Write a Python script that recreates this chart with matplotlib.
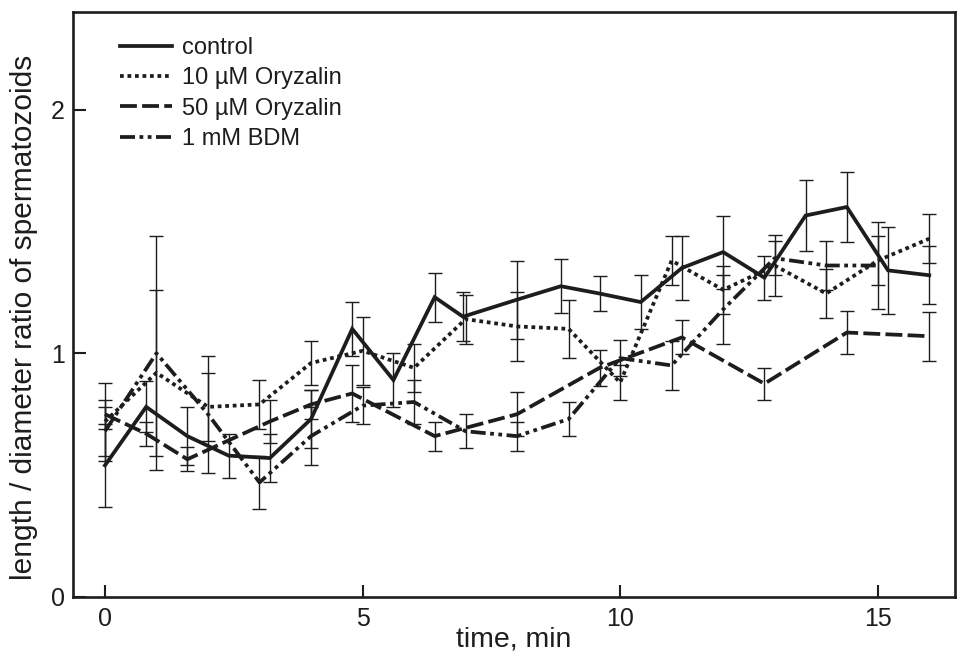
import matplotlib
matplotlib.use("Agg")
import matplotlib.pyplot as plt

plt.rcParams['font.family'] = ['Liberation Sans', 'DejaVu Sans']

# time points (min) and mean length/diameter ratio with error
t_control = [0, 0.8, 1.6, 2.4, 3.2, 4.0, 4.8, 5.6, 6.4, 6.95, 8.0, 8.85, 9.6, 10.4, 11.2, 12.0, 12.8, 13.6, 14.4, 15.2, 16.0]
control = [0.54, 0.78, 0.66, 0.58, 0.57, 0.73, 1.10, 0.89, 1.23, 1.15, 1.22, 1.275, 1.245, 1.21, 1.35, 1.415, 1.31, 1.565, 1.60, 1.34, 1.32]
control_err = [0.17, 0.105, 0.12, 0.09, 0.10, 0.12, 0.11, 0.11, 0.10, 0.10, 0.16, 0.11, 0.07, 0.11, 0.13, 0.15, 0.09, 0.145, 0.145, 0.18, 0.12]

t_oryz10 = [0, 1, 2, 3, 4, 5, 6, 7, 8, 9, 10, 11, 12, 13, 14, 15, 16]
oryz10 = [0.72, 0.92, 0.78, 0.79, 0.96, 1.01, 0.94, 1.14, 1.11, 1.10, 0.88, 1.38, 1.26, 1.36, 1.245, 1.38, 1.47]
oryz10_err = [0.16, 0.34, 0.14, 0.10, 0.09, 0.14, 0.10, 0.10, 0.14, 0.12, 0.07, 0.10, 0.10, 0.125, 0.10, 0.10, 0.10]

t_oryz50 = [0, 0.8, 1.6, 3.2, 4.0, 4.8, 6.4, 8.0, 9.6, 11.2, 12.8, 14.4, 16.0]
oryz50 = [0.75, 0.67, 0.565, 0.72, 0.79, 0.835, 0.66, 0.75, 0.94, 1.065, 0.875, 1.085, 1.07]
oryz50_err = [0.06, 0.05, 0.05, 0.09, 0.06, 0.115, 0.06, 0.09, 0.075, 0.07, 0.065, 0.087, 0.10]

t_bdm = [0, 1, 2, 3, 4, 5, 6, 7, 8, 9, 10, 11, 12, 13, 14, 15]
bdm = [0.68, 1.00, 0.75, 0.47, 0.66, 0.785, 0.80, 0.68, 0.66, 0.73, 0.98, 0.95, 1.18, 1.39, 1.36, 1.36]
bdm_err = [0.10, 0.48, 0.24, 0.11, 0.12, 0.075, 0.09, 0.07, 0.06, 0.07, 0.075, 0.10, 0.14, 0.07, 0.10, 0.18]

labels = ['control', '10 µM Oryzalin', '50 µM Oryzalin', '1 mM BDM']
x_ticks = [0, 5, 10, 15]
y_ticks = [0, 1, 2]

ink = '#1e1c1d'
styles = ['-', (0, (1, 1)), (0, (4.5, 1.4)), (0, (4, 1.2, 1, 1.2, 1, 1.2))]
series = [(t_control, control, control_err),
          (t_oryz10, oryz10, oryz10_err),
          (t_oryz50, oryz50, oryz50_err),
          (t_bdm, bdm, bdm_err)]

fig = plt.figure(figsize=(9.58, 6.54), dpi=100)
ax = fig.add_axes([73 / 958, 57 / 654, 882 / 958, 585 / 654])

handles = []
for (t, v, e), ls, lab in zip(series, styles, labels):
    ax.errorbar(t, v, yerr=e, fmt='none', ecolor=ink, elinewidth=1.0,
                capsize=4.8, capthick=1.0, zorder=2)
    line, = ax.plot(t, v, color=ink, linestyle=ls, linewidth=2.7,
                    dash_capstyle='butt', solid_joinstyle='miter', zorder=3, label=lab)
    handles.append(line)

ax.set_xlim(-0.62, 16.5)
ax.set_ylim(0, 2.4)
ax.set_xticks(x_ticks)
ax.set_yticks(y_ticks)
ax.tick_params(direction='in', length=9, width=1.5, labelsize=18, color=ink, labelcolor=ink)
ax.tick_params(axis='x', pad=7)
ax.tick_params(axis='y', pad=6)
for s in ax.spines.values():
    s.set_linewidth(1.9)
    s.set_color(ink)

ax.set_xlabel('time, min', fontsize=20.5, color=ink, labelpad=-3)
ax.set_ylabel('length / diameter ratio of spermatozoids', fontsize=21.5, color=ink,
              labelpad=9, y=0.478)

ax.legend(handles=handles, loc='upper left', bbox_to_anchor=(0.0535, 0.957),
          frameon=False, fontsize=17, handlelength=2.2, handletextpad=0.42,
          labelspacing=0.35, borderpad=0, borderaxespad=0, labelcolor=ink)

fig.savefig('out.png', dpi=100)
